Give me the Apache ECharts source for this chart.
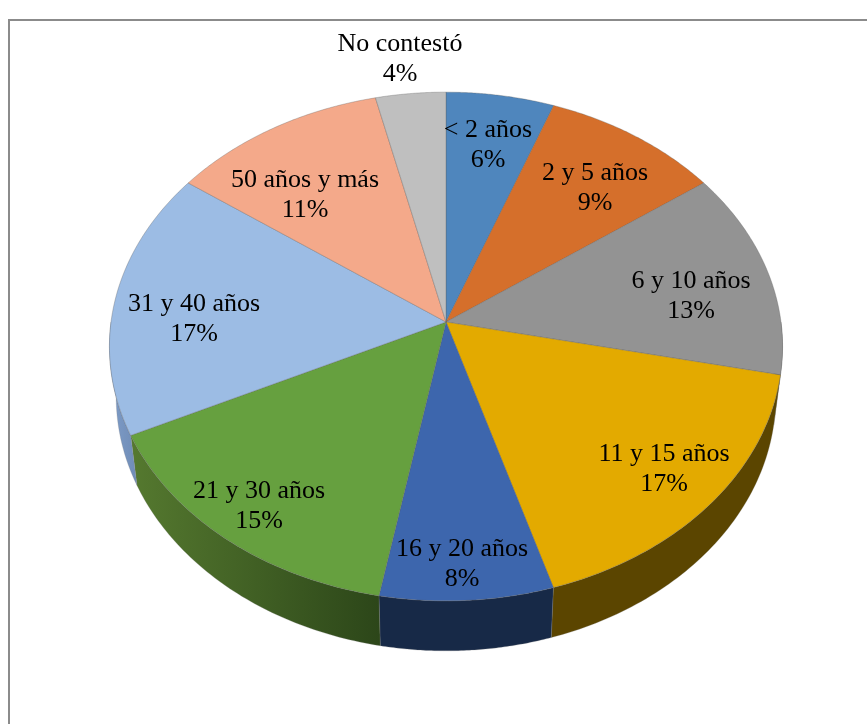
<!DOCTYPE html>
<html>
<head>
<meta charset="utf-8">
<style>html,body{margin:0;padding:0;background:#fff}#c{width:867px;height:724px}</style>
<script src="https://cdn.jsdelivr.net/npm/echarts@6/dist/echarts.min.js"></script>
</head>
<body>
<div id="c"></div>
<script>
// Data
const categories = ['< 2 años','2 y 5 años','6 y 10 años','11 y 15 años','16 y 20 años','21 y 30 años','31 y 40 años','50 años y más','No contestó'];
const percentages = [5.7,9.4,13.2,17.0,7.6,15.0,17.0,11.4,3.7];

// Styles and layout
const topColors = ['#4f86bd','#d56f2b','#939393','#e3aa00','#3d66ad','#66a03f','#9cbce4','#f4a98a','#bfbfbf'];
const wallLeft  = ['#3b648e','#a05320','#6e6e6e','#5b4500','#172947','#55792f','#7f9dc8','#b77f67','#8f8f8f'];
const wallRight = ['#3b648e','#a05320','#6e6e6e','#5b4500','#172947','#2c4619','#6f8cb6','#b77f67','#8f8f8f'];
const labelOffsets = [[42,-177],[149,-134],[245,-26],[218,147],[16,242],[-187,184],[-252,-3],[-141,-127],[-46,-263]];
const CX = 446, CY = 322, RX = 335, RY = 252, K = 0.0963, DEPTH = 50, SHRINK = 0.98;
const total = percentages.reduce((a,b)=>a+b,0);
const starts = []; percentages.reduce((s,v,i)=>{starts[i]=s; return s+v;},0);

function project(theta){
  const w = 1 + K*Math.cos(theta);
  return [RX*Math.sin(theta)/w, -RY*Math.cos(theta)/w];
}
function topPoint(theta){ const p = project(theta); return [CX+p[0], CY+p[1]]; }
function bottomPoint(theta){ const p = project(theta); return [CX+p[0]*SHRINK, CY+p[1]+DEPTH]; }
function angles(i, value, from, to){
  const a0 = Math.max(starts[i]/total*2*Math.PI, from);
  const a1 = Math.min((starts[i]+value)/total*2*Math.PI, to);
  const n = 64, out = [];
  if (a1 <= a0) return out;
  for (let j=0;j<=n;j++) out.push(a0+(a1-a0)*j/n);
  return out;
}
function renderWall(params, api){
  const i = params.dataIndex;
  const th = angles(i, api.value(0), Math.PI*0.5, Math.PI*1.5);
  if (!th.length) return {type:'group',children:[]};
  const pts = th.map(topPoint).concat(th.slice().reverse().map(bottomPoint));
  const xs = pts.map(p=>p[0]);
  const left = Math.min.apply(null,xs), right = Math.max.apply(null,xs);
  return {type:'polygon', shape:{points:pts}, style:{
    fill:{type:'linear',x:left,y:0,x2:right,y2:0,global:true,colorStops:[{offset:0,color:wallLeft[i]},{offset:1,color:wallRight[i]}]},
    stroke:'rgba(130,130,130,0.35)', lineWidth:0.7}};
}
function renderTop(params, api){
  const i = params.dataIndex;
  const th = angles(i, api.value(0), 0, Math.PI*2);
  const pts = [[CX,CY]].concat(th.map(topPoint));
  return {type:'polygon', shape:{points:pts}, style:{fill:topColors[i], stroke:'rgba(90,90,90,0.45)', lineWidth:0.7}};
}
function renderLabel(params, api){
  const i = params.dataIndex;
  return {type:'text', x:CX+labelOffsets[i][0], y:CY+labelOffsets[i][1], style:{
    text:categories[i]+'\n'+Math.round(api.value(0))+'%', fill:'#000', font:'26px "Liberation Serif"',
    lineHeight:30, align:'center', verticalAlign:'middle'}};
}
const chart = echarts.init(document.getElementById('c'), null, {renderer:'canvas'});
const base = {type:'custom', coordinateSystem:'none', data:percentages, silent:true, animation:false};
chart.setOption({
  backgroundColor:'#ffffff',
  animation:false,
  graphic:[
    {type:'line', z:0, shape:{x1:9,y1:20,x2:9,y2:724}, style:{stroke:'#8b8b8b',lineWidth:2}},
    {type:'line', z:0, shape:{x1:8,y1:20,x2:867,y2:20}, style:{stroke:'#8b8b8b',lineWidth:2}}
  ],
  series:[
    Object.assign({},base,{name:'wall', z:2, renderItem:renderWall}),
    Object.assign({},base,{name:'top', z:3, renderItem:renderTop}),
    Object.assign({},base,{name:'label', z:4, renderItem:renderLabel})
  ]
});
</script>
</body>
</html>
